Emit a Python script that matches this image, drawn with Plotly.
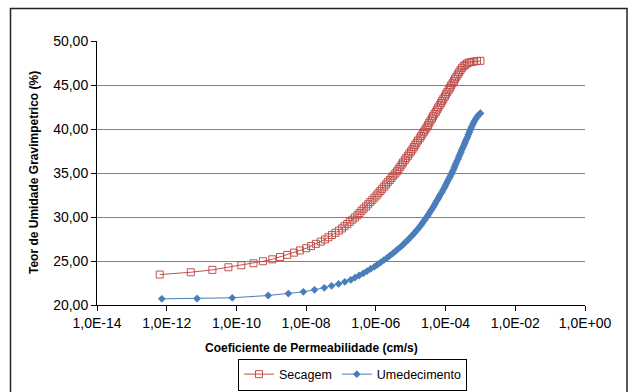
import numpy as np
import plotly.graph_objects as go

# Secagem (drying branch): moisture content (%) vs log10 of permeability (cm/s)
w_secagem = [23.46, 23.72, 23.99, 24.29, 24.51, 24.74, 24.97, 25.19, 25.45, 25.70, 25.95,
             26.20, 26.45, 26.70, 26.95, 27.20, 27.45, 27.70, 27.95, 28.20, 28.45,
             28.70, 28.95, 29.20, 29.45, 29.70, 29.95, 30.20, 30.45, 30.70, 30.95,
             31.20, 31.45, 31.70, 31.95, 32.20, 32.45, 32.70, 32.95, 33.20, 33.45,
             33.70, 33.95, 34.20, 34.45, 34.70, 34.95, 35.20, 35.45, 35.70, 35.95,
             36.20, 36.45, 36.70, 36.95, 37.20, 37.45, 37.70, 37.95, 38.20, 38.45,
             38.70, 38.95, 39.20, 39.45, 39.70, 39.95, 40.20, 40.45, 40.70, 40.95,
             41.20, 41.45, 41.70, 41.95, 42.20, 42.45, 42.70, 42.95, 43.20, 43.45,
             43.70, 43.95, 44.20, 44.45, 44.70, 44.95, 45.20, 45.45, 45.70, 45.95,
             46.20, 46.45, 46.70, 46.95, 47.15, 47.30, 47.45, 47.55, 47.62, 47.67,
             47.71, 47.75]
logk_secagem = [-12.20, -11.31, -10.69, -10.23, -9.86, -9.51, -9.24, -8.97, -8.75, -8.54, -8.35,
                -8.18, -8.00, -7.86, -7.72, -7.58, -7.46, -7.36, -7.26, -7.16, -7.06,
                -6.97, -6.90, -6.82, -6.75, -6.67, -6.60, -6.53, -6.47, -6.41, -6.35,
                -6.28, -6.22, -6.16, -6.10, -6.04, -5.98, -5.93, -5.87, -5.82, -5.76,
                -5.71, -5.66, -5.60, -5.55, -5.50, -5.44, -5.39, -5.35, -5.30, -5.26,
                -5.22, -5.17, -5.13, -5.08, -5.04, -4.99, -4.95, -4.91, -4.87, -4.83,
                -4.79, -4.74, -4.70, -4.66, -4.62, -4.58, -4.54, -4.50, -4.47, -4.43,
                -4.39, -4.36, -4.32, -4.28, -4.24, -4.21, -4.17, -4.13, -4.10, -4.06,
                -4.02, -3.99, -3.95, -3.91, -3.87, -3.84, -3.80, -3.76, -3.73, -3.69,
                -3.65, -3.61, -3.57, -3.53, -3.48, -3.43, -3.38, -3.33, -3.26, -3.18,
                -3.10, -3.00]

# Umedecimento (wetting branch)
w_umedecimento = [20.70, 20.74, 20.82, 21.08, 21.30, 21.50, 21.72, 21.95, 22.18, 22.40,
                  22.63, 22.86, 23.10, 23.35, 23.60, 23.85, 24.10, 24.35, 24.60, 24.85,
                  25.10, 25.35, 25.60, 25.85, 26.10, 26.35, 26.60, 26.85, 27.10, 27.35,
                  27.60, 27.85, 28.10, 28.35, 28.60, 28.85, 29.10, 29.35, 29.60, 29.85,
                  30.10, 30.35, 30.60, 30.85, 31.10, 31.35, 31.60, 31.85, 32.10, 32.35,
                  32.60, 32.85, 33.10, 33.35, 33.60, 33.85, 34.10, 34.35, 34.60, 34.85,
                  35.10, 35.35, 35.60, 35.85, 36.10, 36.35, 36.60, 36.85, 37.10, 37.35,
                  37.60, 37.85, 38.10, 38.35, 38.60, 38.85, 39.10, 39.35, 39.60, 39.85,
                  40.10, 40.35, 40.60, 40.85, 41.10, 41.35, 41.55, 41.70, 41.80]
logk_umedecimento = [-12.14, -11.13, -10.12, -9.09, -8.51, -8.08, -7.76, -7.48, -7.27, -7.07,
                     -6.89, -6.72, -6.60, -6.48, -6.36, -6.25, -6.15, -6.04, -5.95, -5.86,
                     -5.77, -5.68, -5.60, -5.52, -5.44, -5.37, -5.29, -5.22, -5.16, -5.09,
                     -5.03, -4.97, -4.91, -4.86, -4.80, -4.75, -4.70, -4.66, -4.61, -4.57,
                     -4.52, -4.48, -4.44, -4.40, -4.36, -4.32, -4.29, -4.25, -4.21, -4.18,
                     -4.14, -4.10, -4.07, -4.03, -4.00, -3.97, -3.94, -3.90, -3.87, -3.84,
                     -3.81, -3.78, -3.75, -3.73, -3.70, -3.67, -3.64, -3.62, -3.59, -3.56,
                     -3.54, -3.51, -3.48, -3.45, -3.43, -3.40, -3.37, -3.35, -3.32, -3.30,
                     -3.27, -3.24, -3.21, -3.18, -3.14, -3.10, -3.06, -3.02, -3.00]

x_tickvals = [1e-14, 1e-12, 1e-10, 1e-8, 1e-6, 1e-4, 1e-2, 1e0]
x_ticktext = ["1,0E-14", "1,0E-12", "1,0E-10", "1,0E-08", "1,0E-06", "1,0E-04", "1,0E-02", "1,0E+00"]

RED = "#C0504D"
BLUE = "#4A7EBB"
FONT = "Liberation Sans, Arial, sans-serif"

k_secagem = np.power(10.0, logk_secagem)
k_umedecimento = np.power(10.0, logk_umedecimento)

fig = go.Figure()
fig.add_trace(go.Scatter(
    x=k_secagem, y=w_secagem, name="Secagem", mode="lines+markers",
    line=dict(color=RED, width=1),
    marker=dict(symbol="square-open", size=7, color=RED, line=dict(width=1, color=RED)),
))
fig.add_trace(go.Scatter(
    x=k_umedecimento, y=w_umedecimento, name="Umedecimento", mode="lines+markers",
    line=dict(color=BLUE, width=1),
    marker=dict(symbol="diamond", size=6, color=BLUE),
))

L, R, T, B = 97, 44, 41, 87
W, H = 629, 392
pw, ph = W - L - R, H - T - B


def px(xp):
    return (xp - L) / pw


def py(yp):
    return (H - B - yp) / ph


fig.update_layout(
    width=W, height=H,
    margin=dict(l=L, r=R, t=T, b=B, pad=0, autoexpand=False),
    paper_bgcolor="white", plot_bgcolor="white",
    separators=",.",
    font=dict(family=FONT, size=14, color="black"),
    showlegend=True,
    legend=dict(
        orientation="h", xref="container", yref="container",
        x=238 / W, y=(H - 390.5) / H, xanchor="left", yanchor="bottom",
        bordercolor="black", borderwidth=1, bgcolor="white",
        font=dict(family=FONT, size=12.5, color="black"),
        itemwidth=30,
    ),
    xaxis=dict(
        type="log", range=[-14, 0],
        tickvals=x_tickvals, ticktext=x_ticktext,
        showgrid=False, zeroline=False,
        showline=True, linecolor="black", linewidth=1,
        ticks="outside", ticklen=5, tickcolor="black",
        tickfont=dict(family=FONT, size=14),
    ),
    yaxis=dict(
        range=[20, 50], dtick=5, tickformat=".2f",
        showgrid=True, gridcolor="#808080", gridwidth=1, zeroline=False,
        showline=True, linecolor="black", linewidth=1,
        ticks="outside", ticklen=5, tickcolor="black",
        tickfont=dict(family=FONT, size=14),
    ),
    shapes=[dict(
        type="rect", xref="paper", yref="paper",
        x0=px(10.5), x1=px(627), y0=py(8.5), y1=py(400),
        line=dict(color="#222222", width=1.5), fillcolor="rgba(0,0,0,0)", layer="below",
    )],
    annotations=[
        dict(text="<b>Coeficiente de Permeabilidade (cm/s)</b>", xref="paper", yref="paper",
             x=px(311), y=py(348), xanchor="center", yanchor="middle", showarrow=False,
             font=dict(family=FONT, size=12, color="black")),
        dict(text="<b>Teor de Umidade Gravimpetrico (%)</b>", xref="paper", yref="paper",
             x=px(34), y=0.5, xanchor="center", yanchor="middle", textangle=-90, showarrow=False,
             font=dict(family=FONT, size=12, color="black")),
    ],
)

fig.write_html("out.html")
